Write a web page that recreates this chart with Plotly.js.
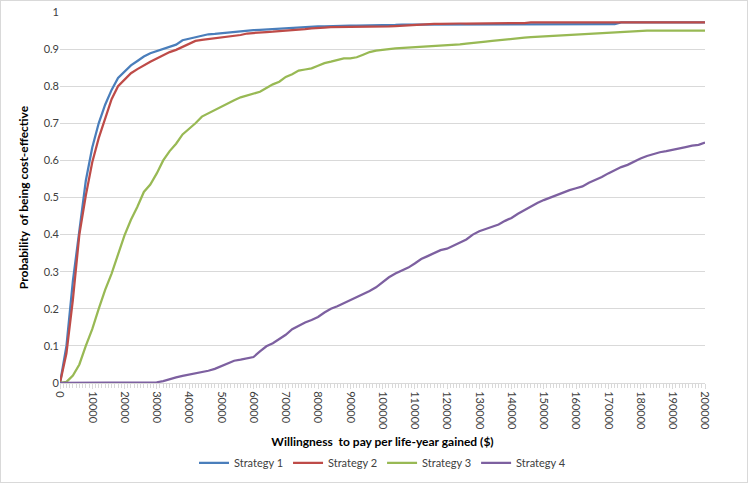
<!DOCTYPE html>
<html>
<head>
<meta charset="utf-8">
<script src="https://cdn.plot.ly/plotly-3.0.1.min.js"></script>
<style>
html,body{margin:0;padding:0;background:#fff;}
#chart{width:748px;height:483px;box-sizing:border-box;border:1px solid #d9d9d9;}
</style>
</head>
<body>
<div id="chart"></div>
<script>
const wtp = [0,2000,4000,6000,8000,10000,12000,14000,16000,18000,
20000,22000,24000,26000,28000,30000,32000,34000,36000,38000,
40000,42000,44000,46000,48000,50000,52000,54000,56000,58000,
60000,62000,64000,66000,68000,70000,72000,74000,76000,78000,
80000,82000,84000,86000,88000,90000,92000,94000,96000,98000,
100000,102000,104000,106000,108000,110000,112000,114000,116000,118000,
120000,122000,124000,126000,128000,130000,132000,134000,136000,138000,
140000,142000,144000,146000,148000,150000,152000,154000,156000,158000,
160000,162000,164000,166000,168000,170000,172000,174000,176000,178000,
180000,182000,184000,186000,188000,190000,192000,194000,196000,198000,
200000];

const strategy1 = [0,0.10,0.275,0.415,0.545,0.635,0.70,0.750,0.790,0.822,
0.840,0.856,0.868,0.880,0.889,0.895,0.902,0.907,0.912,0.924,
0.929,0.932,0.936,0.940,0.941,0.943,0.944,0.946,0.947,0.949,
0.951,0.952,0.953,0.955,0.956,0.957,0.958,0.960,0.960,0.960,
0.961,0.961,0.962,0.962,0.962,0.963,0.963,0.963,0.964,0.964,
0.965,0.965,0.965,0.966,0.966,0.966,0.967,0.967,0.967,0.967,
0.967,0.967,0.967,0.967,0.967,0.967,0.967,0.967,0.967,0.967,
0.967,0.967,0.967,0.967,0.967,0.967,0.967,0.967,0.967,0.967,
0.967,0.967,0.967,0.967,0.967,0.967,0.967,0.972,0.972,0.972,
0.972,0.972,0.972,0.972,0.972,0.972,0.972,0.972,0.972,0.972,
0.972];

const strategy2 = [0,0.08,0.225,0.40,0.505,0.595,0.66,0.711,0.765,0.800,
0.818,0.835,0.846,0.857,0.866,0.875,0.884,0.892,0.898,0.906,
0.915,0.922,0.925,0.927,0.929,0.930,0.932,0.934,0.938,0.942,
0.944,0.945,0.946,0.947,0.948,0.949,0.950,0.952,0.954,0.956,
0.958,0.958,0.959,0.959,0.959,0.960,0.960,0.960,0.960,0.961,
0.961,0.961,0.962,0.963,0.966,0.967,0.968,0.968,0.968,0.968,
0.969,0.969,0.969,0.969,0.969,0.970,0.970,0.970,0.970,0.970,
0.970,0.970,0.970,0.972,0.972,0.972,0.972,0.972,0.972,0.972,
0.972,0.972,0.972,0.972,0.972,0.972,0.972,0.972,0.972,0.972,
0.972,0.972,0.972,0.972,0.972,0.972,0.972,0.972,0.972,0.972,
0.972];

const strategy3 = [0,0.003,0.02,0.05,0.10,0.145,0.20,0.251,0.295,0.345,
0.398,0.44,0.475,0.515,0.535,0.565,0.600,0.625,0.645,0.670,
0.685,0.700,0.718,0.727,0.735,0.745,0.755,0.762,0.770,0.775,
0.778,0.785,0.795,0.805,0.812,0.825,0.832,0.842,0.845,0.848,
0.855,0.862,0.866,0.870,0.875,0.875,0.878,0.885,0.892,0.896,
0.899,0.900,0.902,0.903,0.904,0.906,0.907,0.908,0.909,0.910,
0.911,0.912,0.913,0.915,0.916,0.917,0.920,0.922,0.924,0.927,
0.929,0.930,0.931,0.932,0.933,0.935,0.936,0.938,0.938,0.939,
0.940,0.941,0.942,0.943,0.944,0.945,0.946,0.947,0.948,0.949,
0.950,0.950,0.950,0.950,0.950,0.950,0.950,0.950,0.950,0.950,
0.950];

const strategy4 = [0,0,0,0,0,0,0,0,0,0,
0,0,0,0,0,0.002,0.005,0.011,0.015,0.019,
0.022,0.025,0.028,0.033,0.038,0.045,0.053,0.060,0.063,0.066,
0.070,0.085,0.099,0.107,0.118,0.130,0.145,0.155,0.163,0.170,
0.178,0.190,0.200,0.207,0.215,0.222,0.230,0.239,0.248,0.258,
0.272,0.285,0.295,0.302,0.311,0.322,0.334,0.342,0.350,0.358,
0.362,0.370,0.377,0.387,0.400,0.409,0.415,0.422,0.427,0.437,
0.445,0.456,0.466,0.476,0.485,0.493,0.500,0.507,0.512,0.520,
0.525,0.530,0.540,0.547,0.555,0.565,0.574,0.582,0.588,0.597,
0.605,0.612,0.618,0.622,0.625,0.628,0.632,0.636,0.640,0.642,
0.648];

const seriesNames = ['Strategy 1','Strategy 2','Strategy 3','Strategy 4'];
const seriesColors = ['#4a7ebb','#be4b48','#98b954','#7d60a0'];
const seriesValues = [strategy1, strategy2, strategy3, strategy4];

const traces = seriesValues.map((vals, i) => ({
  x: wtp, y: vals, type: 'scatter', mode: 'lines', name: seriesNames[i],
  line: {color: seriesColors[i], width: 2.25}
}));

const font = 'Lato, "Liberation Sans", Arial, sans-serif';
const layout = {
  width: 746, height: 481,
  margin: {l: 59, r: 42, t: 11, b: 99, autoexpand: false},
  paper_bgcolor: '#fff', plot_bgcolor: '#fff',
  font: {family: font, size: 11, color: '#404040'},
  showlegend: true,
  legend: {orientation: 'h', x: 0.5, xanchor: 'center', y: -0.215, yanchor: 'middle',
    font: {family: font, size: 11, color: '#404040'}, itemwidth: 30, tracegroupgap: 0},
  xaxis: {
    range: [0, 200000], tickmode: 'linear', tick0: 0, dtick: 10000,
    tickformat: 'd', automargin: false,
    tickangle: 90, showgrid: false, zeroline: false,
    showline: true, linecolor: '#d9d9d9', linewidth: 1,
    ticks: 'outside', ticklen: 5, tickcolor: '#d9d9d9',
    minor: {dtick: 1000, ticks: 'outside', ticklen: 4, tickcolor: '#d9d9d9', showgrid: false},
    tickfont: {family: font, size: 11, color: '#404040'},
    title: {text: '<b>Willingness  to pay per life-year gained ($)</b>', standoff: 8,
      font: {family: font, size: 12, color: '#000'}}
  },
  yaxis: {
    range: [0, 1], tickmode: 'linear', tick0: 0, dtick: 0.1, automargin: false,
    showgrid: true, gridcolor: '#d9d9d9', gridwidth: 1,
    zeroline: false, showline: false, ticks: '',
    tickfont: {family: font, size: 11, color: '#404040'},
    title: {text: '<b>Probability  of being cost-effective</b>', standoff: 12,
      font: {family: font, size: 12, color: '#000'}}
  }
};

Plotly.newPlot('chart', traces, layout, {displayModeBar: false, staticPlot: true});
</script>
</body>
</html>
